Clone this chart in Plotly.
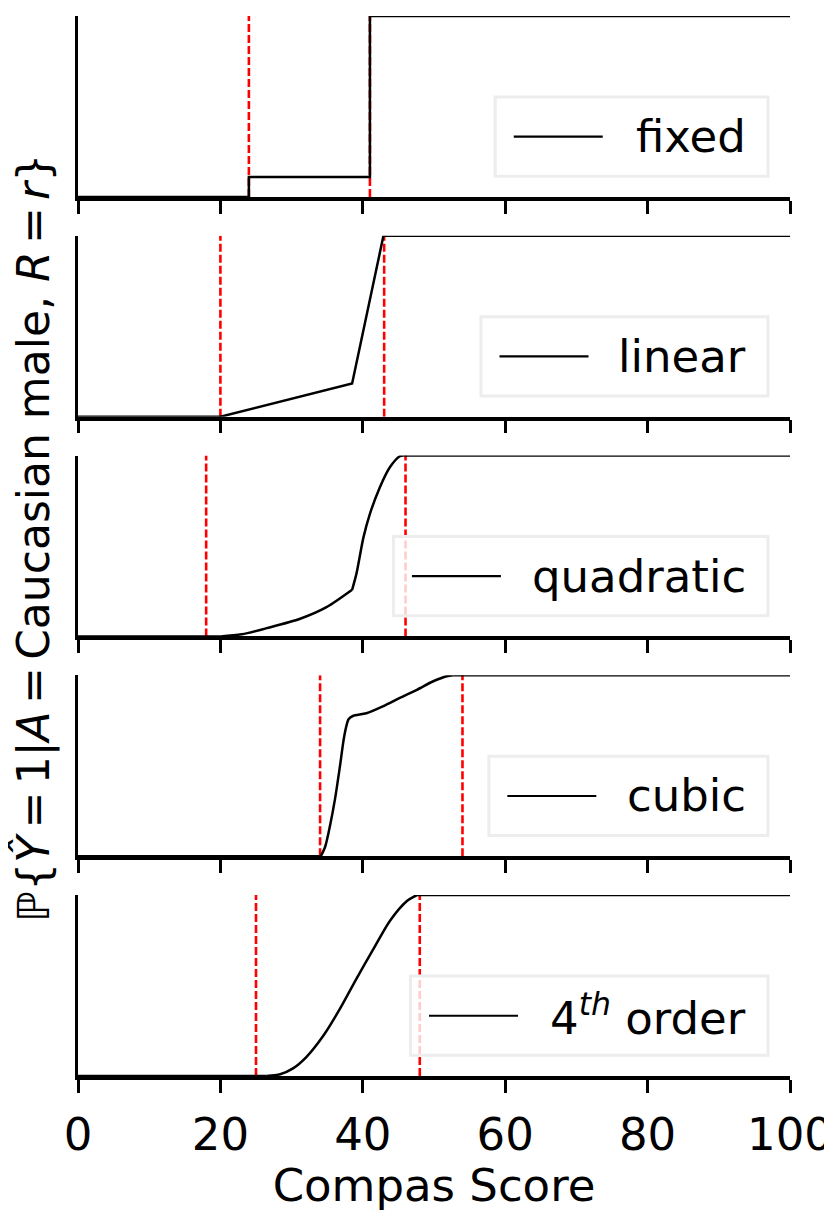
import plotly.graph_objects as go
from plotly.subplots import make_subplots

# Compas score axis
score_ticks = [0, 20, 40, 60, 80, 100]

model_names = ["fixed", "linear", "quadratic", "cubic", "4<sup><i>th</i></sup> order"]

# thresholds (red dashed lines) per model
fixed_cuts = [24, 41]
linear_cuts = [20, 43]
quad_cuts = [18, 46]
cubic_cuts = [34, 54]
quart_cuts = [25, 48]

# P{Y=1 | A=Caucasian male, R=r} curves
fixed_x = [0, 24, 24, 41, 41, 100]
fixed_y = [0, 0, 0.11, 0.11, 1, 1]

linear_x = [0, 20, 38.5, 42.9, 100]
linear_y = [0, 0, 0.184, 1, 1]

quad_low_x = [0, 20, 23.0, 26.5, 31.2, 34.9, 38.5]
quad_low_y = [0, 0, 0.012, 0.046, 0.098, 0.162, 0.258]
quad_high_x = [38.5, 39.1, 40.1, 41.0, 42.4, 43.8, 45.2, 45.7, 100]
quad_high_y = [0.258, 0.346, 0.549, 0.678, 0.825, 0.935, 0.996, 1, 1]

cubic_x = [0, 34.1, 34.7, 35.4, 36.1, 36.8, 37.4, 38.0, 38.6, 40.5, 42.9, 45.2, 47.6, 49.9, 51.8, 52.7, 100]
cubic_y = [0, 0, 0.051, 0.17, 0.317, 0.5, 0.665, 0.757, 0.775, 0.79, 0.83, 0.875, 0.92, 0.967, 0.995, 1, 1]

quart_x = [0, 26.5, 28.4, 30.2, 32.1, 34.5, 36.8, 39.1, 41.5, 43.8, 46.2, 47.6, 100]
quart_y = [0, 0, 0.01, 0.042, 0.106, 0.225, 0.372, 0.537, 0.702, 0.857, 0.967, 1, 1]

panels = [
    (fixed_cuts, [(fixed_x, fixed_y, "linear")]),
    (linear_cuts, [(linear_x, linear_y, "linear")]),
    (quad_cuts, [(quad_low_x, quad_low_y, "spline"), (quad_high_x, quad_high_y, "spline")]),
    (cubic_cuts, [(cubic_x, cubic_y, "spline")]),
    (quart_cuts, [(quart_x, quart_y, "spline")]),
]

# left edge of each legend box (axes-domain units)
legend_left = [0.586, 0.566, 0.443, 0.577, 0.467]

FONT = "DejaVu Sans"
EQ = "\u2006=\u2006"


def pieces(xs, ys, shape):
    # flat lead-in / tail stay straight, only the rising part gets smoothed
    if shape == "linear":
        return [(xs, ys, "linear")]
    out = []
    start, end = 0, len(xs)
    if ys[0] == ys[1]:
        out.append((xs[:2], ys[:2], "linear"))
        start = 1
    if ys[-1] == ys[-2]:
        out.append((xs[-2:], ys[-2:], "linear"))
        end = len(xs) - 1
    out.append((xs[start:end], ys[start:end], "spline"))
    return out


fig = make_subplots(rows=5, cols=1, shared_xaxes=True, vertical_spacing=0.0366)

for i, (cuts, segs) in enumerate(panels, start=1):
    for c in cuts:
        fig.add_trace(go.Scatter(x=[c, c], y=[0, 1], mode="lines",
                                 line=dict(color="red", width=2.6, dash="8px,3px"),
                                 showlegend=False, hoverinfo="skip"), row=i, col=1)
    for sx, sy, shape in segs:
        for px, py, sh in pieces(sx, sy, shape):
            fig.add_trace(go.Scatter(x=px, y=py, mode="lines", name=model_names[i - 1],
                                     line=dict(color="black", width=2.5, shape=sh, smoothing=0.8),
                                     showlegend=False), row=i, col=1)

    # legend box drawn by hand so the handle is as long as the original
    xr = "x domain" if i == 1 else f"x{i} domain"
    yr = "y domain" if i == 1 else f"y{i} domain"
    left = legend_left[i - 1]
    fig.add_shape(type="rect", xref=xr, yref=yr, x0=left, x1=0.969, y0=0.115, y1=0.552,
                  line=dict(color="#ededed", width=3), fillcolor="rgba(255,255,255,0.8)")
    fig.add_shape(type="line", xref=xr, yref=yr, x0=left + 0.026, x1=left + 0.151,
                  y0=0.333, y1=0.333, line=dict(color="black", width=2.2))
    fig.add_annotation(xref=xr, yref=yr, x=0.941, y=0.333, xanchor="right", yanchor="middle",
                       text=model_names[i - 1], showarrow=False,
                       font=dict(family=FONT, size=45, color="black"))

fig.update_xaxes(range=[0, 100], tickvals=score_ticks, ticks="outside", ticklen=13, tickwidth=3,
                 tickcolor="black", showline=True, linewidth=3.5, linecolor="black",
                 showgrid=False, zeroline=False, showticklabels=False, automargin=False)
fig.update_xaxes(showticklabels=True, tickfont=dict(family=FONT, size=45, color="black"),
                 ticklabeloverflow="allow", ticklabelstandoff=3,
                 title=dict(text="Compas Score", font=dict(family=FONT, size=45, color="black"),
                            standoff=8),
                 row=5, col=1)
fig.update_yaxes(range=[0, 1], showline=True, linewidth=3, linecolor="black", automargin=False,
                 showticklabels=False, ticks="", showgrid=False, zeroline=False)

fig.add_annotation(xref="paper", yref="paper", x=-0.063, y=0.508, textangle=-90,
                   xanchor="center", yanchor="middle", showarrow=False,
                   text="ℙ{<i>Ŷ</i>" + EQ + "1|<i>A</i>" + EQ + "Caucasian male, <i>R</i>" + EQ + "<i>r</i>}",
                   font=dict(family=FONT, size=44, color="black"))

# page body has an 8px margin, so the figure is 8px smaller and shifted
fig.update_layout(width=824, height=1204, margin=dict(l=70, r=42, t=8, b=136, autoexpand=False),
                  plot_bgcolor="white", paper_bgcolor="white",
                  font=dict(family=FONT, color="black"), showlegend=False)

fig.write_html("out.html")
